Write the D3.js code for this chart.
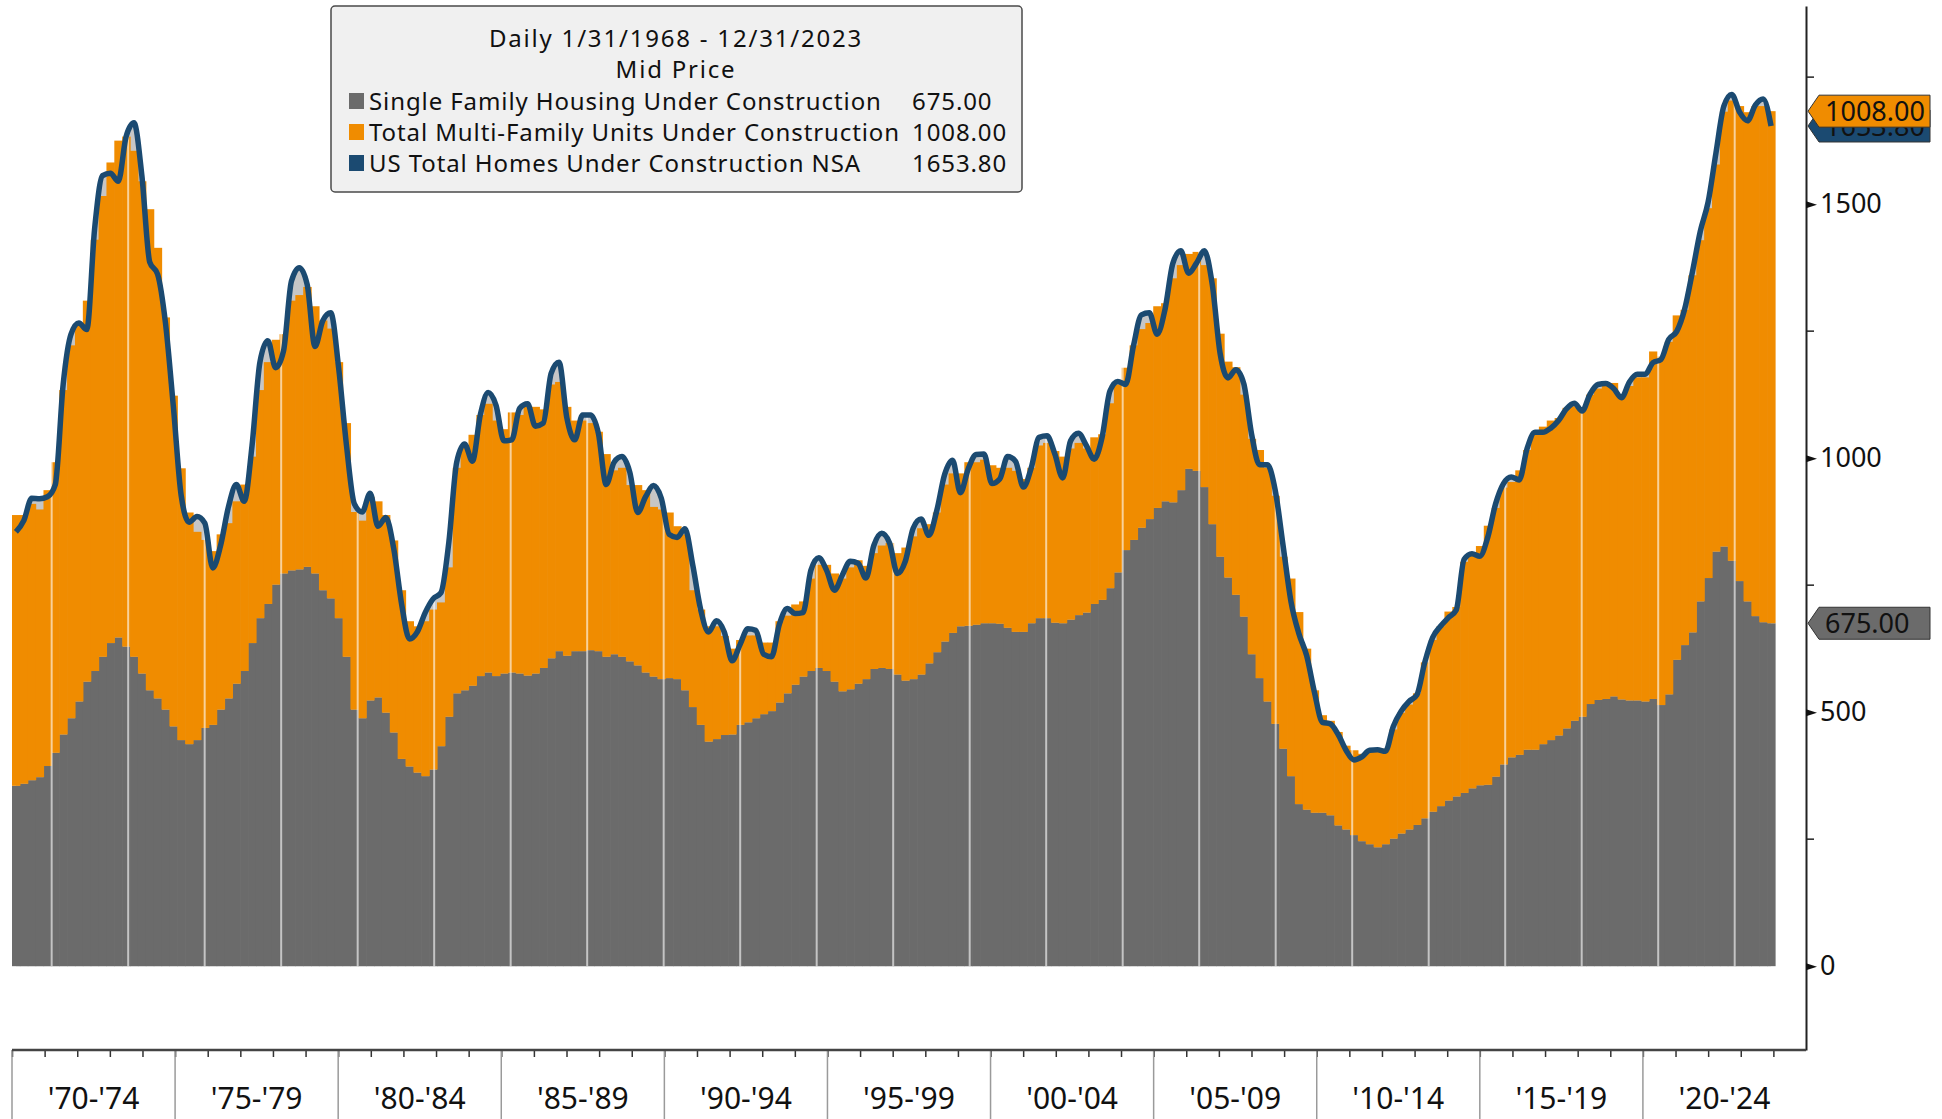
<!DOCTYPE html>
<html>
<head>
<meta charset="utf-8">
<script src="https://cdn.jsdelivr.net/npm/d3@7"></script>
<style>
  body { margin: 0; background: #fff; }
  svg { display: block; }
  text { font-family: "Noto Sans", "DejaVu Sans", sans-serif; fill: #111; }
</style>
</head>
<body>
<div id="chart"></div>
<script>
// quarterly readings, 1968Q1 .. 2023Q4 (thousands of units)
var single = [
  355,359,366,372,394,420,456,488,521,560,
  581,609,636,647,629,609,576,543,527,505,
  472,445,437,445,469,475,505,527,556,581,
  636,685,713,751,773,779,781,786,773,740,
  724,685,609,505,488,523,529,499,460,408,
  393,381,374,387,433,491,537,543,552,571,
  578,571,576,578,576,572,576,587,606,620,
  611,620,620,622,620,609,614,609,600,592,
  578,570,565,567,565,543,510,475,442,447,
  455,456,475,480,488,496,502,519,537,554,
  570,581,587,581,560,541,545,556,565,585,
  587,585,574,562,565,574,596,618,639,656,
  669,670,672,675,675,674,666,658,658,675,
  685,685,676,675,682,691,696,713,721,744,
  775,819,839,863,880,902,915,913,937,979,
  975,943,870,806,765,731,688,614,567,521,
  477,428,374,319,308,302,302,297,277,269,
  258,246,240,234,240,251,261,269,278,291,
  304,315,326,334,341,350,356,357,373,397,
  411,416,426,426,437,445,454,468,483,491,
  516,524,526,531,525,523,523,521,526,514,
  535,603,632,657,718,764,816,826,798,758,
  718,689,677,675
];
var multi = [
  533,529,544,527,543,572,678,734,745,750,
  849,907,946,978,1004,996,969,947,887,772,
  651,535,456,410,370,342,345,345,359,367,
  367,449,476,482,471,531,540,551,526,531,
  531,504,460,389,389,401,386,389,378,332,
  286,288,305,315,283,294,444,477,494,514,
  529,503,481,512,509,531,525,509,539,530,
  490,454,454,447,432,399,362,372,347,355,
  359,334,334,326,301,307,230,227,227,222,
  195,169,167,171,163,141,135,160,153,158,
  148,182,203,209,213,222,240,243,223,228,
  241,248,239,262,281,288,274,275,309,314,
  301,322,320,322,311,307,315,317,301,306,
  340,345,338,328,337,339,323,328,326,364,
  370,359,383,391,386,397,390,441,443,423,
  431,437,484,439,425,448,437,424,449,460,
  449,378,389,378,317,241,192,186,184,165,
  167,172,185,189,188,215,238,246,259,307,
  338,354,372,373,455,460,471,510,529,545,
  542,560,590,625,625,629,625,631,619,608,
  609,613,622,617,600,619,636,638,684,686,
  694,678,660,703,711,728,762,856,906,935,
  963,1004,1016,1008
];
var total = [
  855,877,921,920,924,948,1145,1244,1266,1253,
  1452,1556,1561,1545,1633,1660,1556,1386,1362,1266,
  1102,926,874,885,872,784,828,904,948,915,
  1025,1189,1231,1178,1211,1348,1375,1342,1220,1271,
  1286,1178,1025,910,894,931,866,883,822,713,
  644,658,696,723,735,834,992,1028,994,1085,
  1129,1104,1034,1036,1098,1107,1063,1069,1167,1189,
  1079,1036,1085,1085,1049,948,992,1003,972,893,
  924,946,921,850,844,861,789,702,658,680,
  658,601,633,664,661,614,609,673,704,694,
  696,779,804,779,740,770,797,793,764,828,
  852,833,773,797,862,880,848,897,968,996,
  932,979,1007,1008,950,959,1003,994,943,981,
  1041,1044,1008,961,1034,1049,1025,998,1041,1132,
  1151,1145,1222,1282,1286,1244,1293,1384,1408,1364,
  1384,1408,1342,1206,1158,1174,1147,1047,987,987,
  937,828,718,655,611,538,480,477,456,425,
  406,412,425,426,423,472,502,521,534,598,
  647,669,686,701,801,812,807,844,910,950,
  963,957,1019,1051,1051,1059,1074,1097,1108,1093,
  1126,1145,1147,1137,1119,1150,1165,1165,1188,1194,
  1234,1249,1292,1366,1446,1504,1601,1693,1716,1681,
  1664,1695,1707,1653.8
];
var quarters = d3.range(single.length).map(function(i){ return 1968 + i / 4; });

var gridYears = [1969.26,1971.69,1974.12,1976.55,1978.98,1981.41,1983.84,1986.27,
  1988.70,1991.13,1993.56,1995.99,1998.42,2000.85,2003.28,2005.71,2008.14,
  2010.57,2013.00,2015.43,2017.86,2020.29,2022.72];

var yTicks = [0, 500, 1000, 1500];
var yMinor = [250, 750, 1250, 1750];
var periods = ["'70-'74","'75-'79","'80-'84","'85-'89","'90-'94","'95-'99",
  "'00-'04","'05-'09","'10-'14","'15-'19","'20-'24"];
var axisYears = d3.range(1970, 2025);

var legendTitle = ["Daily 1/31/1968 - 12/31/2023", "Mid Price"];
var legendRows = [
  {name: "Single Family Housing Under Construction", last: "675.00", color: "#6b6b6b"},
  {name: "Total Multi-Family Units Under Construction", last: "1008.00", color: "#f08c00"},
  {name: "US Total Homes Under Construction NSA", last: "1653.80", color: "#1b4a71"}
];

var W = 1942, H = 1119;
var svg = d3.select("#chart").append("svg").attr("width", W).attr("height", H);

var x = d3.scaleLinear().domain([1968, 2024]).range([12, 1775]);
var y = d3.scaleLinear().domain([-165, 1890]).range([1050, 6]);
var bw = x(1968.25) - x(1968);

var rows = quarters.map(function(t, i){
  return {t: t, s: single[i], m: multi[i], v: total[i]};
});

// light gray fill under the total line (shows where the bars fall short)
var area = d3.area()
  .x(function(d){ return x(d.t + 0.125); })
  .y0(y(0))
  .y1(function(d){ return y(d.v); })
  .curve(d3.curveMonotoneX);
svg.append("path").datum(rows).attr("d", area).attr("fill", "#c6c6c6");

// stacked bars
svg.append("g").selectAll("rect.sf").data(rows).enter().append("rect")
  .attr("x", function(d){ return x(d.t); })
  .attr("width", bw + 0.6)
  .attr("y", function(d){ return y(d.s); })
  .attr("height", function(d){ return y(0) - y(d.s); })
  .attr("fill", "#6b6b6b");
svg.append("g").selectAll("rect.mf").data(rows).enter().append("rect")
  .attr("x", function(d){ return x(d.t); })
  .attr("width", bw + 0.6)
  .attr("y", function(d){ return y(d.s + d.m); })
  .attr("height", function(d){ return y(d.s) - y(d.s + d.m); })
  .attr("fill", "#f08c00");

// pale vertical grid lines
svg.append("g").selectAll("line").data(gridYears).enter().append("line")
  .attr("x1", function(d){ return x(d); }).attr("x2", function(d){ return x(d); })
  .attr("y1", y(0)).attr("y2", 6)
  .attr("stroke", "#fff").attr("stroke-opacity", 0.6).attr("stroke-width", 2);

// total line
var line = d3.line()
  .x(function(d){ return x(d.t + 0.125); })
  .y(function(d){ return y(d.v); })
  .curve(d3.curveMonotoneX);
svg.append("path").datum(rows).attr("d", line)
  .attr("fill", "none").attr("stroke", "#1b4a71")
  .attr("stroke-width", 5.5).attr("stroke-linejoin", "round");

// right y axis
var yAxis = svg.append("g").attr("transform", "translate(1806,0)")
  .call(d3.axisRight(y).tickValues(yTicks).tickFormat(d3.format("d"))
    .tickSize(0).tickSizeOuter(0).tickPadding(14));
yAxis.select(".domain").attr("stroke", "#222").attr("stroke-width", 2);
yAxis.selectAll("text").style("font-size", "27px").attr("fill", "#111");
yAxis.selectAll(".tick").append("path")
  .attr("d", "M0,-3.5L11,0L0,3.5Z").attr("fill", "#111");
svg.append("g").selectAll("line").data(yMinor).enter().append("line")
  .attr("x1", 1806).attr("x2", 1814)
  .attr("y1", function(d){ return y(d); }).attr("y2", function(d){ return y(d); })
  .attr("stroke", "#222").attr("stroke-width", 1.5);

// bottom period axis
var xb = d3.scaleBand().domain(periods).range([12, 1806]);
var xy = d3.scaleLinear().domain([1970, 2025]).range([12, 1806]);
var xAxis = svg.append("g").attr("transform", "translate(0,1050)")
  .call(d3.axisBottom(xb).tickSize(0).tickSizeOuter(0).tickPadding(38));
xAxis.select(".domain").remove();
xAxis.selectAll("text").style("font-size", "30px").attr("fill", "#111");
svg.append("g").attr("transform", "translate(0,1050)")
  .call(d3.axisBottom(xy).tickValues(axisYears).tickSize(7).tickSizeOuter(0).tickFormat(""))
  .call(function(g){
    g.select(".domain").remove();
    g.selectAll(".tick line").attr("stroke", "#333").attr("stroke-width", 1.5);
  });
svg.append("g").selectAll("line").data(periods).enter().append("line")
  .attr("x1", function(d){ return xb(d); }).attr("x2", function(d){ return xb(d); })
  .attr("y1", 1050).attr("y2", H)
  .attr("stroke", "#9a9a9a").attr("stroke-width", 1.5);
svg.append("line").attr("x1", 12).attr("x2", 1806).attr("y1", 1050).attr("y2", 1050)
  .attr("stroke", "#444").attr("stroke-width", 2.5);

// legend box
var lg = svg.append("g");
lg.append("rect").attr("x", 331).attr("y", 6).attr("width", 691).attr("height", 186)
  .attr("rx", 4).attr("fill", "#f0f0f0").attr("stroke", "#4a4a4a").attr("stroke-width", 1.5);
lg.selectAll("text.title").data(legendTitle).enter().append("text")
  .attr("x", 676).attr("y", function(d, i){ return 47 + i * 31; })
  .attr("text-anchor", "middle").style("font-size", "24px").style("letter-spacing", "1.8px")
  .text(function(d){ return d; });
var lr = lg.selectAll("g.row").data(legendRows).enter().append("g")
  .attr("transform", function(d, i){ return "translate(0," + (101 + i * 31) + ")"; });
lr.append("rect").attr("x", 349).attr("y", -8).attr("width", 15).attr("height", 16)
  .attr("fill", function(d){ return d.color; });
lr.append("text").attr("x", 369).attr("y", 9).style("font-size", "24px")
  .style("letter-spacing", "0.9px").text(function(d){ return d.name; });
lr.append("text").attr("x", 912).attr("y", 9).style("font-size", "24px")
  .style("letter-spacing", "0.9px").text(function(d){ return d.last; });

// last-value tags on the right axis
function tag(val, label, fill, txt){
  var cy = y(val);
  var g = svg.append("g").attr("transform", "translate(0," + cy + ")");
  g.append("path")
    .attr("d", "M1808,0L1819,-16L1930,-16L1930,16L1819,16Z")
    .attr("fill", fill).attr("stroke", "#333").attr("stroke-width", 1);
  g.append("text").attr("x", 1825).attr("y", 10).style("font-size", "27px")
    .attr("fill", txt).text(label);
}
tag(total[total.length - 1], "1653.80", "#1b4a71", "#fff");
tag(single[single.length - 1] + multi[multi.length - 1], "1008.00", "#f08c00", "#111");
tag(single[single.length - 1], "675.00", "#6b6b6b", "#fff");
</script>
</body>
</html>
